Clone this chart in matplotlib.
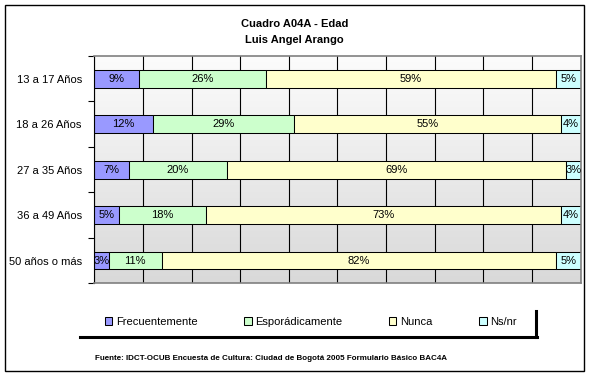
import matplotlib
matplotlib.use('Agg')
import matplotlib.pyplot as plt
import numpy as np
from matplotlib.colors import LinearSegmentedColormap
from matplotlib.patches import Patch, Rectangle
from matplotlib.lines import Line2D

# Data
age_groups = ['13 a 17 Años', '18 a 26 Años', '27 a 35 Años', '36 a 49 Años', '50 años o más']
series_names = ['Frecuentemente', 'Esporádicamente', 'Nunca', 'Ns/nr']
frecuentemente = [9, 12, 7, 5, 3]
esporadicamente = [26, 29, 20, 18, 11]
nunca = [59, 55, 69, 73, 82]
ns_nr = [5, 4, 3, 4, 5]
colors = ['#9999FF', '#CCFFCC', '#FFFFCC', '#CCFFFF']

title_lines = ['Cuadro A04A - Edad', 'Luis Angel Arango']
source = 'Fuente: IDCT-OCUB Encuesta de Cultura: Ciudad de Bogotá 2005 Formulario Básico BAC4A'


def main():
    plt.rcParams['font.family'] = ['Liberation Sans', 'DejaVu Sans']
    W, H = 591, 377
    fig = plt.figure(figsize=(W / 100, H / 100), dpi=100)
    ax = fig.add_axes([94.3 / W, 1 - 283.3 / H, (580.5 - 94.3) / W, (283.3 - 56) / H])

    # gradient background of the plot area
    grad = np.linspace(0, 1, 256).reshape(-1, 1)
    cmap = LinearSegmentedColormap.from_list('bg', ['#fcfcfc', '#d9d9d9'])
    ax.imshow(grad, cmap=cmap, aspect='auto', extent=(0, 100, 4.5, -0.5), zorder=0)

    series = np.array([frecuentemente, esporadicamente, nunca, ns_nr], dtype=float)
    shares = series / series.sum(axis=0) * 100
    ypos = np.arange(len(age_groups))
    left = np.zeros(len(age_groups))
    for name, vals, raw, col in zip(series_names, shares, series, colors):
        bars = ax.barh(ypos, vals, left=left, height=0.39, color=col,
                       edgecolor='black', linewidth=0.75, label=name, zorder=2)
        ax.bar_label(bars, labels=['%d%%' % v for v in raw], label_type='center',
                     fontsize=8, color='#000000')
        left += vals

    ax.set_xlim(0, 100)
    ax.set_ylim(4.5, -0.5)
    ax.set_xticks(np.arange(0, 101, 10))
    ax.set_xticklabels([])
    ax.tick_params(axis='x', length=0)
    ax.xaxis.grid(True, color='black', linewidth=0.8, zorder=1)
    ax.set_axisbelow(True)

    ax.set_yticks(ypos)
    ax.set_yticklabels(age_groups, fontsize=8)
    ax.set_yticks(np.arange(-0.5, 5, 1), minor=True)
    ax.tick_params(axis='y', which='major', length=0, pad=9)
    ax.tick_params(axis='y', which='minor', length=4, width=0.8, direction='out')

    for side in ['top', 'right', 'bottom']:
        ax.spines[side].set_color('#808080')
        ax.spines[side].set_linewidth(1.2)
    ax.spines['left'].set_color('black')
    ax.spines['left'].set_linewidth(0.8)

    # titles
    fig.text(0.498, 1 - 24 / H, title_lines[0], ha='center', va='center',
             fontsize=8, fontweight='bold')
    fig.text(0.498, 1 - 40 / H, title_lines[1], ha='center', va='center',
             fontsize=8, fontweight='bold')

    # legend
    handles = [Patch(facecolor=c, edgecolor='black', linewidth=0.75) for c in colors]
    fig.legend(handles, series_names, loc='center', bbox_to_anchor=(311 / W, 1 - 322 / H),
               ncol=4, frameon=False, fontsize=8, handlelength=0.65, handleheight=0.65,
               handletextpad=0.35, columnspacing=4.2, borderpad=0)
    # legend shadow
    fig.add_artist(Line2D([80 / W, 537 / W], [1 - 337 / H, 1 - 337 / H],
                          color='black', linewidth=2.2, transform=fig.transFigure))
    fig.add_artist(Line2D([536 / W, 536 / W], [1 - 311 / H, 1 - 337 / H],
                          color='black', linewidth=2.2, transform=fig.transFigure))

    fig.text(95 / W, 1 - 358 / H, source, ha='left', va='center', fontsize=5.8,
             fontweight='bold')

    # outer frame
    fig.add_artist(Rectangle((5.3 / W, 1 - 371 / H), (584.3 - 5.3) / W, (371 - 5.3) / H,
                             fill=False, edgecolor='black', linewidth=1.0,
                             transform=fig.transFigure))

    fig.savefig('out.png', dpi=100)


if __name__ == '__main__':
    main()
